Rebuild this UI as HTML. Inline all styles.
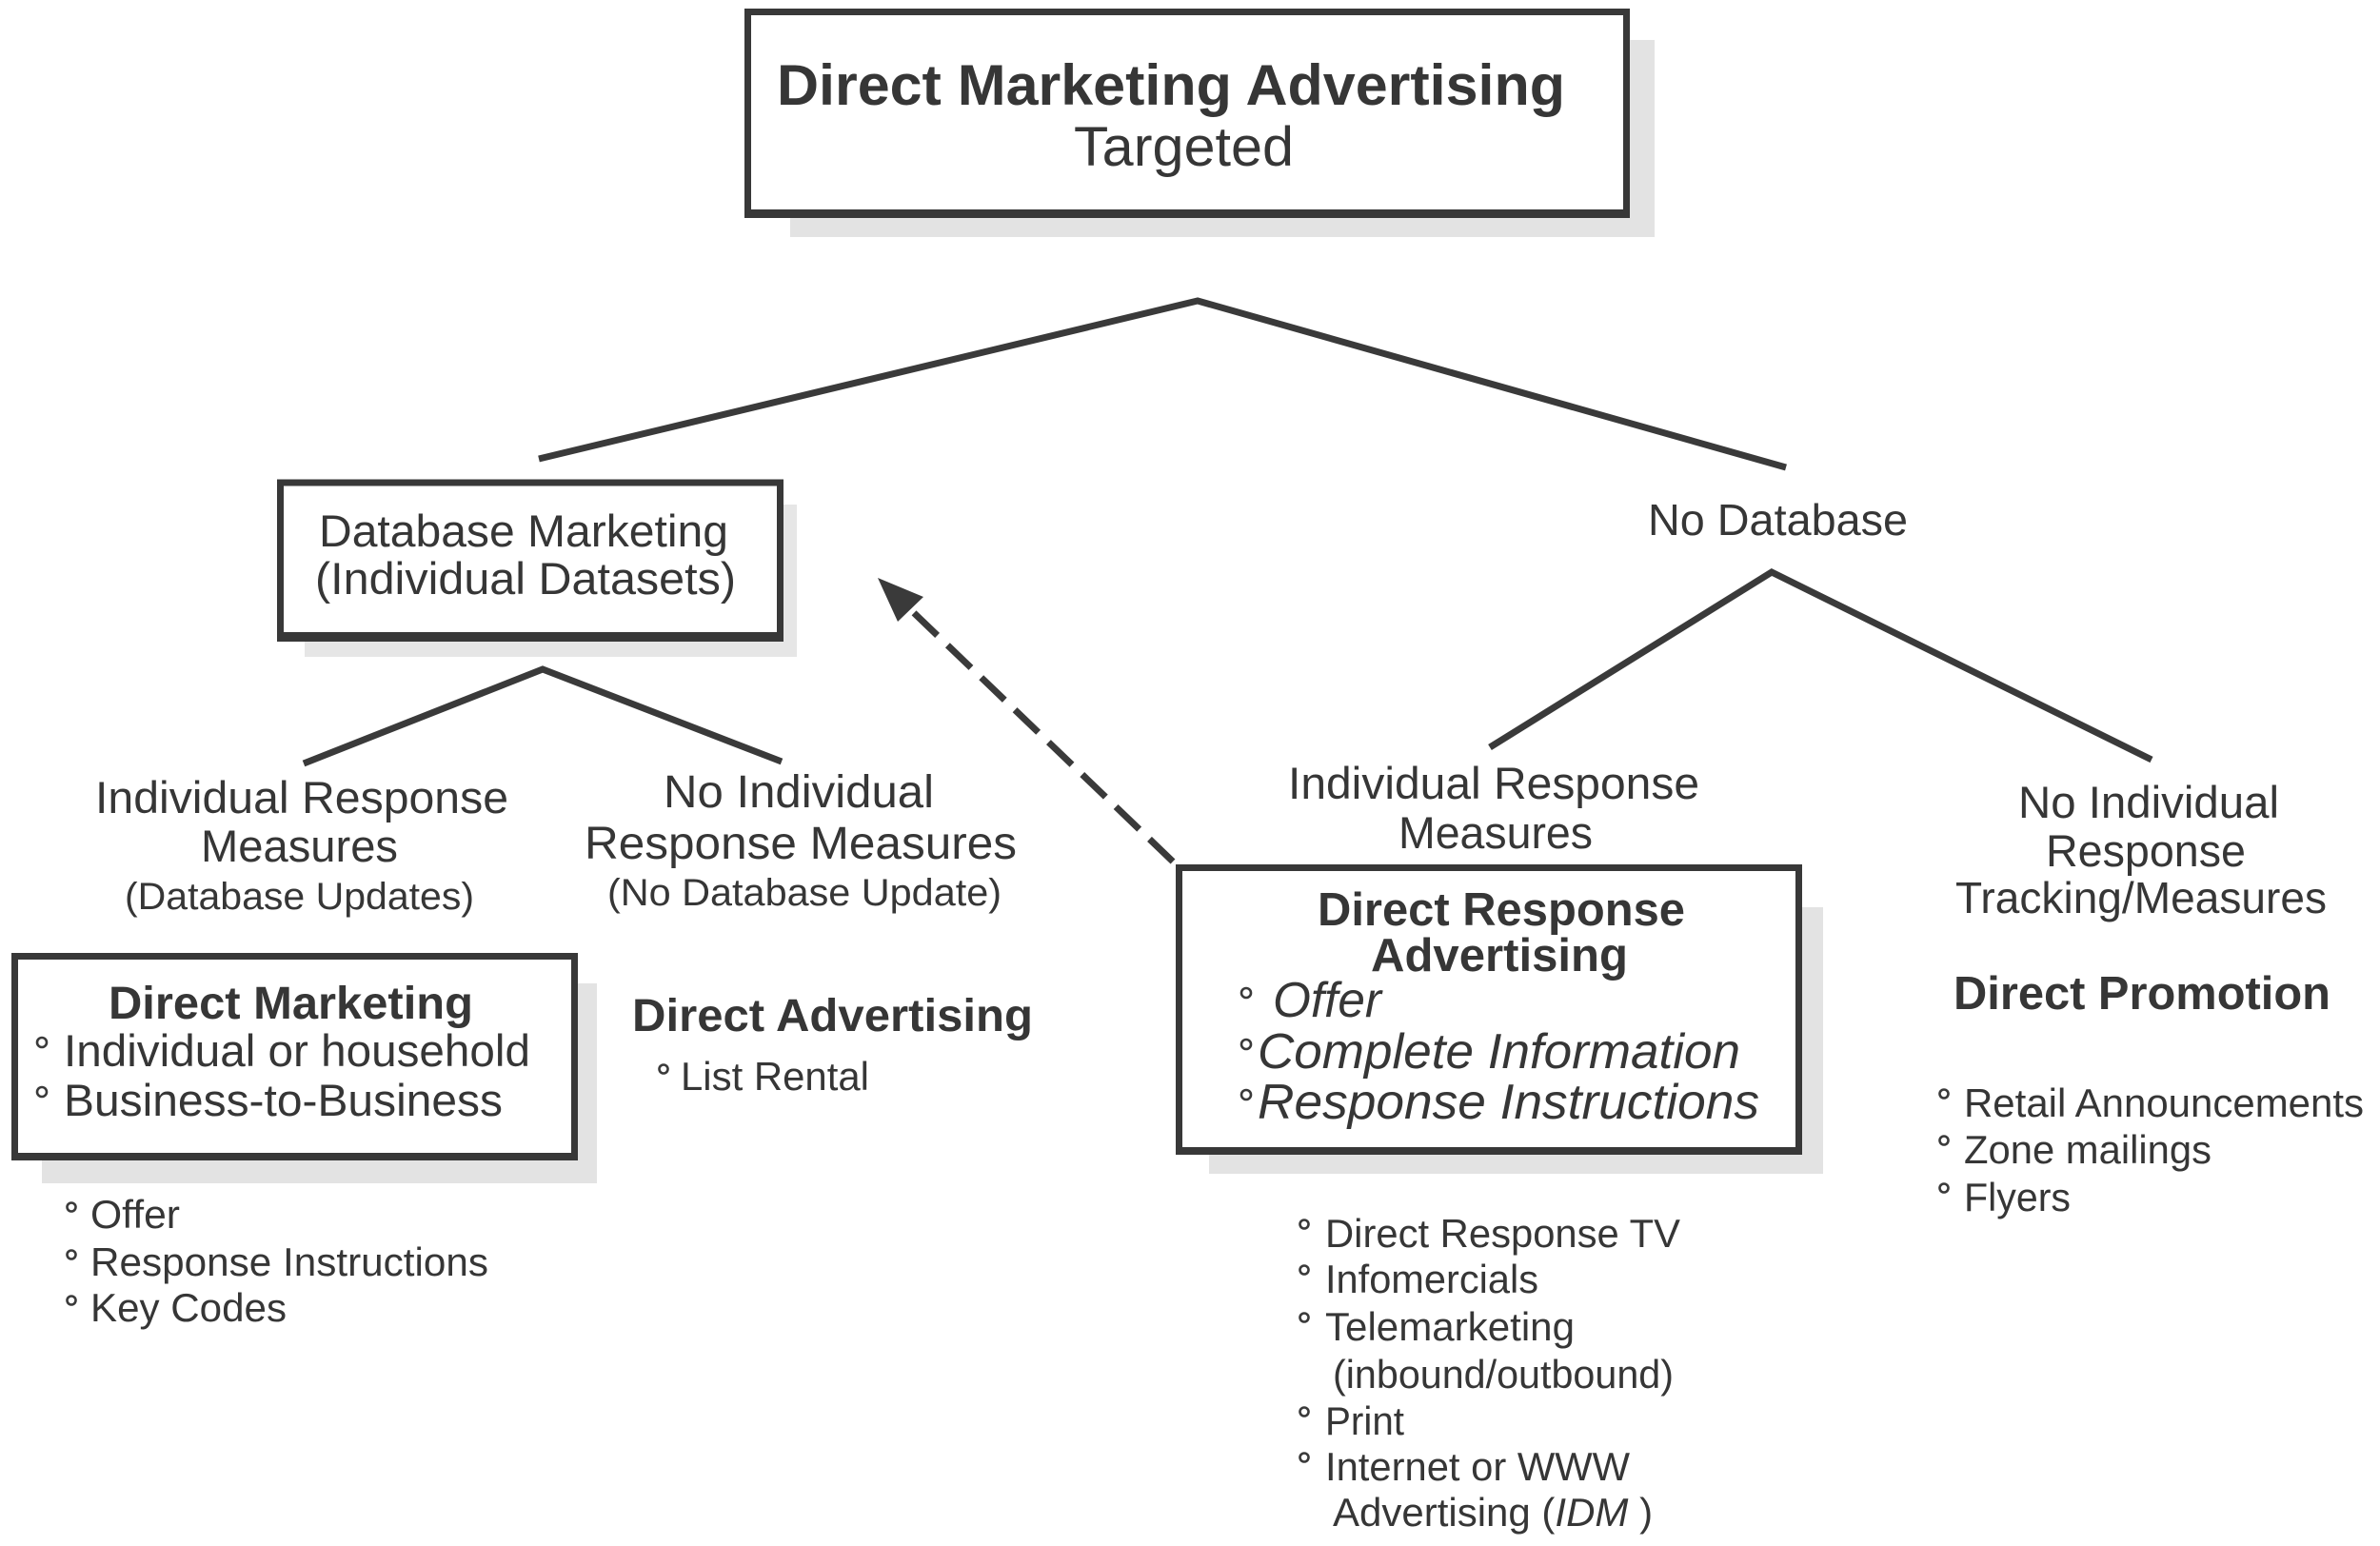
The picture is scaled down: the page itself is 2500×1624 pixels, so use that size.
<!DOCTYPE html>
<html>
<head>
<meta charset="utf-8">
<style>
  html, body { margin:0; padding:0; background:#fff; }
  svg { display:block; }
  text { font-family: "Liberation Sans", Arial, sans-serif; fill:#363636; }
  .b { font-weight:bold; }
  .i { font-style:italic; }
</style>
</head>
<body>
<svg width="2500" height="1624" viewBox="0 0 2500 1624" xmlns="http://www.w3.org/2000/svg">
  <rect x="0" y="0" width="2500" height="1624" fill="#ffffff"/>

  <!-- shadows -->
  <rect x="830" y="42" width="908" height="207" fill="#e3e3e3"/>
  <rect x="320" y="530" width="517" height="160" fill="#e6e6e6"/>
  <rect x="44" y="1033" width="583" height="210" fill="#e3e3e3"/>
  <rect x="1270" y="953" width="645" height="280" fill="#e3e3e3"/>

  <!-- boxes -->
  <g fill="#ffffff" stroke="#383838" stroke-width="7">
    <rect x="785.5" y="12.5" width="923" height="212"/>
    <rect x="294.5" y="507" width="525" height="163"/>
    <rect x="15.5" y="1004.5" width="588" height="211"/>
    <rect x="1238.5" y="911.5" width="651" height="298"/>
  </g>
  <!-- thicker bottom borders -->
  <g fill="#383838">
    <rect x="782" y="220" width="930" height="9"/>
    <rect x="291" y="664" width="532" height="10"/>
    <rect x="12" y="1211" width="595" height="8"/>
    <rect x="1235" y="1205" width="658" height="8"/>
  </g>

  <!-- connectors -->
  <g fill="none" stroke="#3a3a3a" stroke-width="7" stroke-linejoin="miter">
    <polyline points="566,482 1258,316 1876,491"/>
    <polyline points="319,802 570,703 821,800"/>
    <polyline points="1565,785 1861,601 2260,798"/>
  </g>

  <!-- dashed arrow -->
  <line x1="1232" y1="905" x2="956" y2="640" stroke="#3a3a3a" stroke-width="7" stroke-dasharray="34 15"/>
  <polygon points="922,607 943,653 970,627" fill="#3a3a3a"/>

  <!-- Title -->
  <text class="b" x="816" y="110" font-size="60" textLength="828" lengthAdjust="spacingAndGlyphs">Direct Marketing Advertising</text>
  <text x="1128" y="174" font-size="58" textLength="231" lengthAdjust="spacingAndGlyphs">Targeted</text>

  <!-- Database Marketing -->
  <text x="335" y="574" font-size="47" textLength="430" lengthAdjust="spacingAndGlyphs">Database Marketing</text>
  <text x="331" y="624" font-size="47" textLength="442" lengthAdjust="spacingAndGlyphs">(Individual Datasets)</text>

  <!-- No Database -->
  <text x="1731" y="562" font-size="46" textLength="273" lengthAdjust="spacingAndGlyphs">No Database</text>

  <!-- left branch labels -->
  <text x="100" y="854" font-size="47" textLength="434" lengthAdjust="spacingAndGlyphs">Individual Response</text>
  <text x="211" y="905" font-size="47" textLength="207" lengthAdjust="spacingAndGlyphs">Measures</text>
  <text x="131" y="955" font-size="40" textLength="367" lengthAdjust="spacingAndGlyphs">(Database Updates)</text>

  <text x="697" y="848" font-size="48" textLength="284" lengthAdjust="spacingAndGlyphs">No Individual</text>
  <text x="614" y="902" font-size="48" textLength="454" lengthAdjust="spacingAndGlyphs">Response Measures</text>
  <text x="638" y="951" font-size="40" textLength="414" lengthAdjust="spacingAndGlyphs">(No Database Update)</text>

  <!-- right branch labels -->
  <text x="1353" y="839" font-size="47" textLength="432" lengthAdjust="spacingAndGlyphs">Individual Response</text>
  <text x="1469" y="891" font-size="47" textLength="204" lengthAdjust="spacingAndGlyphs">Measures</text>

  <text x="2120" y="859" font-size="47" textLength="274" lengthAdjust="spacingAndGlyphs">No Individual</text>
  <text x="2149" y="910" font-size="47" textLength="210" lengthAdjust="spacingAndGlyphs">Response</text>
  <text x="2054" y="959" font-size="46" textLength="390" lengthAdjust="spacingAndGlyphs">Tracking/Measures</text>

  <!-- Direct Marketing box -->
  <text class="b" x="114" y="1070" font-size="48" textLength="383" lengthAdjust="spacingAndGlyphs">Direct Marketing</text>
  <text x="67" y="1120" font-size="47" textLength="490" lengthAdjust="spacingAndGlyphs">Individual or household</text>
  <text x="67" y="1172" font-size="47" textLength="461" lengthAdjust="spacingAndGlyphs">Business-to-Business</text>

  <!-- Direct Advertising -->
  <text class="b" x="664" y="1083" font-size="48" textLength="421" lengthAdjust="spacingAndGlyphs">Direct Advertising</text>
  <text x="715" y="1145" font-size="42" textLength="198" lengthAdjust="spacingAndGlyphs">List Rental</text>

  <!-- left list -->
  <text x="95" y="1290" font-size="42" textLength="94" lengthAdjust="spacingAndGlyphs">Offer</text>
  <text x="95" y="1340" font-size="42" textLength="418" lengthAdjust="spacingAndGlyphs">Response Instructions</text>
  <text x="95" y="1388" font-size="42" textLength="206" lengthAdjust="spacingAndGlyphs">Key Codes</text>

  <!-- Direct Response Advertising box -->
  <text class="b" x="1384" y="972" font-size="49" textLength="386" lengthAdjust="spacingAndGlyphs">Direct Response</text>
  <text class="b" x="1440" y="1020" font-size="49" textLength="270" lengthAdjust="spacingAndGlyphs">Advertising</text>
  <text class="i" x="1337" y="1068" font-size="52" textLength="114" lengthAdjust="spacingAndGlyphs">Offer</text>
  <text class="i" x="1321" y="1122" font-size="52" textLength="507" lengthAdjust="spacingAndGlyphs">Complete Information</text>
  <text class="i" x="1321" y="1175" font-size="52" textLength="527" lengthAdjust="spacingAndGlyphs">Response Instructions</text>

  <!-- DRA list -->
  <text x="1392" y="1310" font-size="42" textLength="373" lengthAdjust="spacingAndGlyphs">Direct Response TV</text>
  <text x="1392" y="1358" font-size="42" textLength="224" lengthAdjust="spacingAndGlyphs">Infomercials</text>
  <text x="1392" y="1408" font-size="42" textLength="262" lengthAdjust="spacingAndGlyphs">Telemarketing</text>
  <text x="1400" y="1458" font-size="42" textLength="358" lengthAdjust="spacingAndGlyphs">(inbound/outbound)</text>
  <text x="1392" y="1507" font-size="42" textLength="83" lengthAdjust="spacingAndGlyphs">Print</text>
  <text x="1392" y="1555" font-size="42" textLength="320" lengthAdjust="spacingAndGlyphs">Internet or WWW</text>
  <text x="1400" y="1603" font-size="42">Advertising (<tspan font-style="italic">IDM</tspan> )</text>

  <!-- Direct Promotion -->
  <text class="b" x="2052" y="1060" font-size="49" textLength="396" lengthAdjust="spacingAndGlyphs">Direct Promotion</text>
  <text x="2063" y="1173" font-size="42" textLength="420" lengthAdjust="spacingAndGlyphs">Retail Announcements</text>
  <text x="2063" y="1222" font-size="42" textLength="260" lengthAdjust="spacingAndGlyphs">Zone mailings</text>
  <text x="2063" y="1272" font-size="42" textLength="112" lengthAdjust="spacingAndGlyphs">Flyers</text>

  <!-- degree bullets -->
  <g fill="none" stroke="#3a3a3a" stroke-width="2.6">
    <circle cx="44" cy="1095" r="5"/>
    <circle cx="44" cy="1147" r="5"/>
    <circle cx="75" cy="1268" r="4.5"/>
    <circle cx="75" cy="1318" r="4.5"/>
    <circle cx="75" cy="1366" r="4.5"/>
    <circle cx="697" cy="1123" r="4.5"/>
    <circle cx="1309" cy="1043" r="5"/>
    <circle cx="1309" cy="1097" r="5"/>
    <circle cx="1309" cy="1150" r="5"/>
    <circle cx="1370" cy="1286" r="4.5"/>
    <circle cx="1370" cy="1334" r="4.5"/>
    <circle cx="1370" cy="1384" r="4.5"/>
    <circle cx="1370" cy="1483" r="4.5"/>
    <circle cx="1370" cy="1531" r="4.5"/>
    <circle cx="2042" cy="1149" r="4.5"/>
    <circle cx="2042" cy="1198" r="4.5"/>
    <circle cx="2042" cy="1248" r="4.5"/>
  </g>
</svg>
</body>
</html>
